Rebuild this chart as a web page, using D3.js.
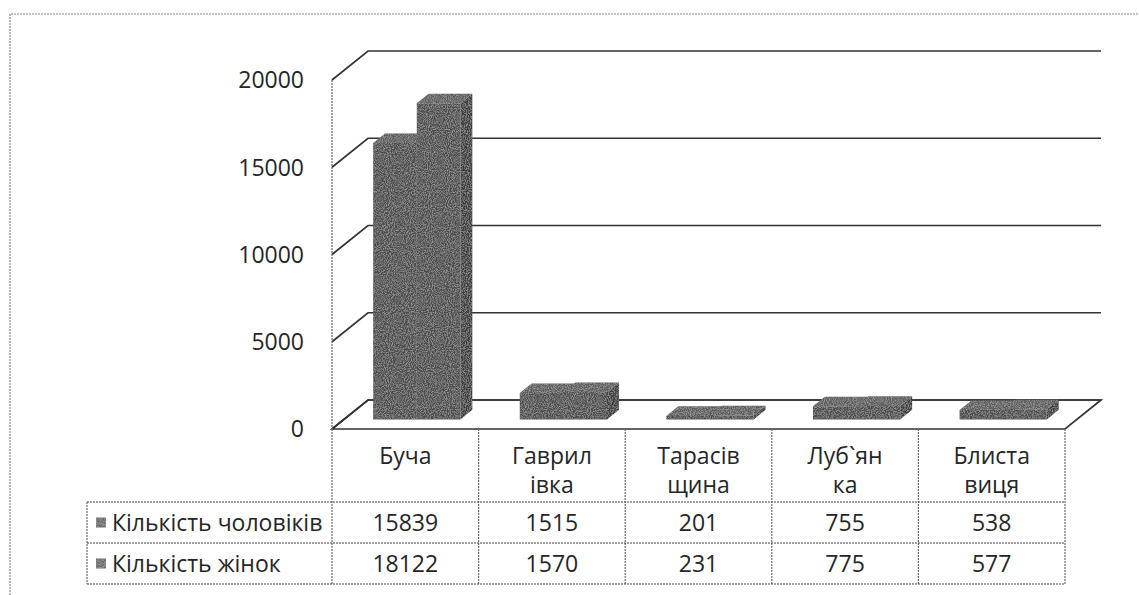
<!DOCTYPE html>
<html>
<head>
<meta charset="utf-8">
<script src="https://cdn.jsdelivr.net/npm/d3@7"></script>
<style>
  html, body { margin: 0; padding: 0; background: #ffffff; }
  svg { display: block; }
  text { font-family: "Open Sans", "Noto Sans", sans-serif; fill: #262626; }
</style>
</head>
<body>
<svg id="chart" width="1139" height="595"></svg>
<script>
// ---- data ----
const categories = ["Буча", "Гаврилівка", "Тарасівщина", "Луб`янка", "Блиставиця"];
const categoryLines = [["Буча"], ["Гаврил", "івка"], ["Тарасів", "щина"], ["Луб`ян", "ка"], ["Блиста", "виця"]];
const seriesNames = ["Кількість чоловіків", "Кількість жінок"];
const men = [15839, 1515, 201, 755, 538];
const women = [18122, 1570, 231, 775, 577];
const yTicks = [0, 5000, 10000, 15000, 20000];

// ---- layout ----
const svg = d3.select("#chart");
const frontLeft = 332, frontRight = 1065;
const yZero = 429, yTop = 80;
const DX = 36, DY = -29;           // depth offset of the back wall
const z0 = 0.33, z1 = 0.66;        // depth span of the bars
const FS = 23;

const x = d3.scaleBand().domain(categories).range([frontLeft, frontRight]).padding(0);
const y = d3.scaleLinear().domain([0, 20000]).range([yZero, yTop]);
const inner = d3.scaleBand().domain([0, 1]).range([0.2, 0.795]).padding(0); // fraction of band

const P = (px, py, z) => [px + z * DX, py + z * DY];
const poly = pts => "M" + pts.map(p => p.join(",")).join("L") + "Z";

// noise filter to mimic the scanned texture of the bars
const defs = svg.append("defs");
const f = defs.append("filter").attr("id", "grain").attr("x", 0).attr("y", 0).attr("width", 1).attr("height", 1);
f.append("feTurbulence").attr("type", "fractalNoise").attr("baseFrequency", 0.95).attr("numOctaves", 2).attr("seed", 3).attr("result", "n");
f.append("feColorMatrix").attr("in", "n").attr("type", "matrix")
  .attr("values", "0 0 0 0 0.45  0 0 0 0 0.45  0 0 0 0 0.45  1.4 0 0 0 -0.55").attr("result", "g");
f.append("feComposite").attr("in", "g").attr("in2", "SourceGraphic").attr("operator", "in").attr("result", "m");
f.append("feBlend").attr("in", "m").attr("in2", "SourceGraphic").attr("mode", "screen");

// outer chart border (dotted, scanned)
svg.append("path").attr("d", "M10,595 L10,14 L1139,14").attr("fill", "none")
  .attr("stroke", "#8a8a8a").attr("stroke-width", 1.2).attr("stroke-dasharray", "2,1");

// ---- gridlines (left wall slant + back wall) ----
const grid = svg.append("g").attr("stroke", "#333").attr("stroke-width", 1.7).attr("fill", "none");
yTicks.forEach(t => {
  const a = P(frontLeft, y(t), 0), b = P(frontLeft, y(t), 1), c = P(frontRight, y(t), 1);
  grid.append("path").attr("d", "M" + a + "L" + b + "L" + c);
});
// floor
grid.append("path").attr("d", poly([P(frontLeft, yZero, 0), P(frontRight, yZero, 0), P(frontRight, yZero, 1), P(frontLeft, yZero, 1)]));

// vertical axis line (front-left), dotted like the scan
svg.append("line").attr("x1", frontLeft).attr("x2", frontLeft).attr("y1", y(20000)).attr("y2", yZero)
  .attr("stroke", "#666").attr("stroke-width", 1.2).attr("stroke-dasharray", "2,1");

// y tick labels
svg.append("g").selectAll("text").data(yTicks).join("text")
  .attr("x", 304).attr("y", d => y(d)).attr("dy", "0.36em").attr("text-anchor", "end")
  .attr("font-size", FS).text(d => d);

// ---- bars ----
const barsG = svg.append("g");
const seriesVals = [men, women];
categories.forEach((cat, i) => {
  const bw = x.bandwidth();
  [0, 1].forEach(s => {
    const v = seriesVals[s][i];
    const a = x(cat) + inner(s) * bw;
    const b = a + inner.bandwidth() * bw;
    const yv = y(v), y0 = y(0);
    const g = barsG.append("g").attr("filter", "url(#grain)");
    g.append("path").attr("d", poly([P(b, yv, z0), P(b, yv, z1), P(b, y0, z1), P(b, y0, z0)])).attr("fill", "#3a3a3a");
    g.append("path").attr("d", poly([P(a, yv, z0), P(b, yv, z0), P(b, yv, z1), P(a, yv, z1)])).attr("fill", "#5c5c5c");
    g.append("path").attr("d", poly([P(a, yv, z0), P(b, yv, z0), P(b, y0, z0), P(a, y0, z0)])).attr("fill", "#4c4c4c");
  });
});

// ---- data table ----
const tableLeft = 87;
const rowTop = [yZero, 502, 543, 584];
const tbl = svg.append("g").attr("stroke", "#6a6a6a").attr("stroke-width", 1.2).attr("fill", "none").attr("stroke-dasharray", "2,1");
// vertical dividers
const colEdges = categories.map(c => x(c)).concat([frontRight]);
colEdges.forEach(cx => {
  tbl.append("line").attr("x1", cx).attr("x2", cx).attr("y1", yZero).attr("y2", rowTop[3]);
});
tbl.append("line").attr("x1", tableLeft).attr("x2", tableLeft).attr("y1", rowTop[1]).attr("y2", rowTop[3]);
// horizontal lines
[1, 2, 3].forEach(r => {
  tbl.append("line").attr("x1", tableLeft).attr("x2", frontRight).attr("y1", rowTop[r]).attr("y2", rowTop[r])
    .attr("stroke", "#444").attr("stroke-dasharray", null);
});

// category labels
const catG = svg.append("g");
categories.forEach((cat, i) => {
  const cx = x(cat) + x.bandwidth() / 2;
  categoryLines[i].forEach((ln, j) => {
    catG.append("text").attr("x", cx).attr("y", 456 + j * 29).attr("dy", "0.36em")
      .attr("text-anchor", "middle").attr("font-size", FS).text(ln);
  });
});

// series rows
seriesNames.forEach((name, s) => {
  const cy = (rowTop[s + 1] + rowTop[s + 2]) / 2;
  svg.append("rect").attr("x", 96).attr("y", cy - 5).attr("width", 10).attr("height", 10)
    .attr("fill", "#6a6a6a").attr("filter", "url(#grain)");
  svg.append("text").attr("x", 112).attr("y", cy).attr("dy", "0.36em").attr("font-size", FS).text(name);
  seriesVals[s].forEach((v, i) => {
    svg.append("text").attr("x", x(categories[i]) + x.bandwidth() / 2).attr("y", cy).attr("dy", "0.36em")
      .attr("text-anchor", "middle").attr("font-size", FS).text(v);
  });
});
</script>
</body>
</html>
